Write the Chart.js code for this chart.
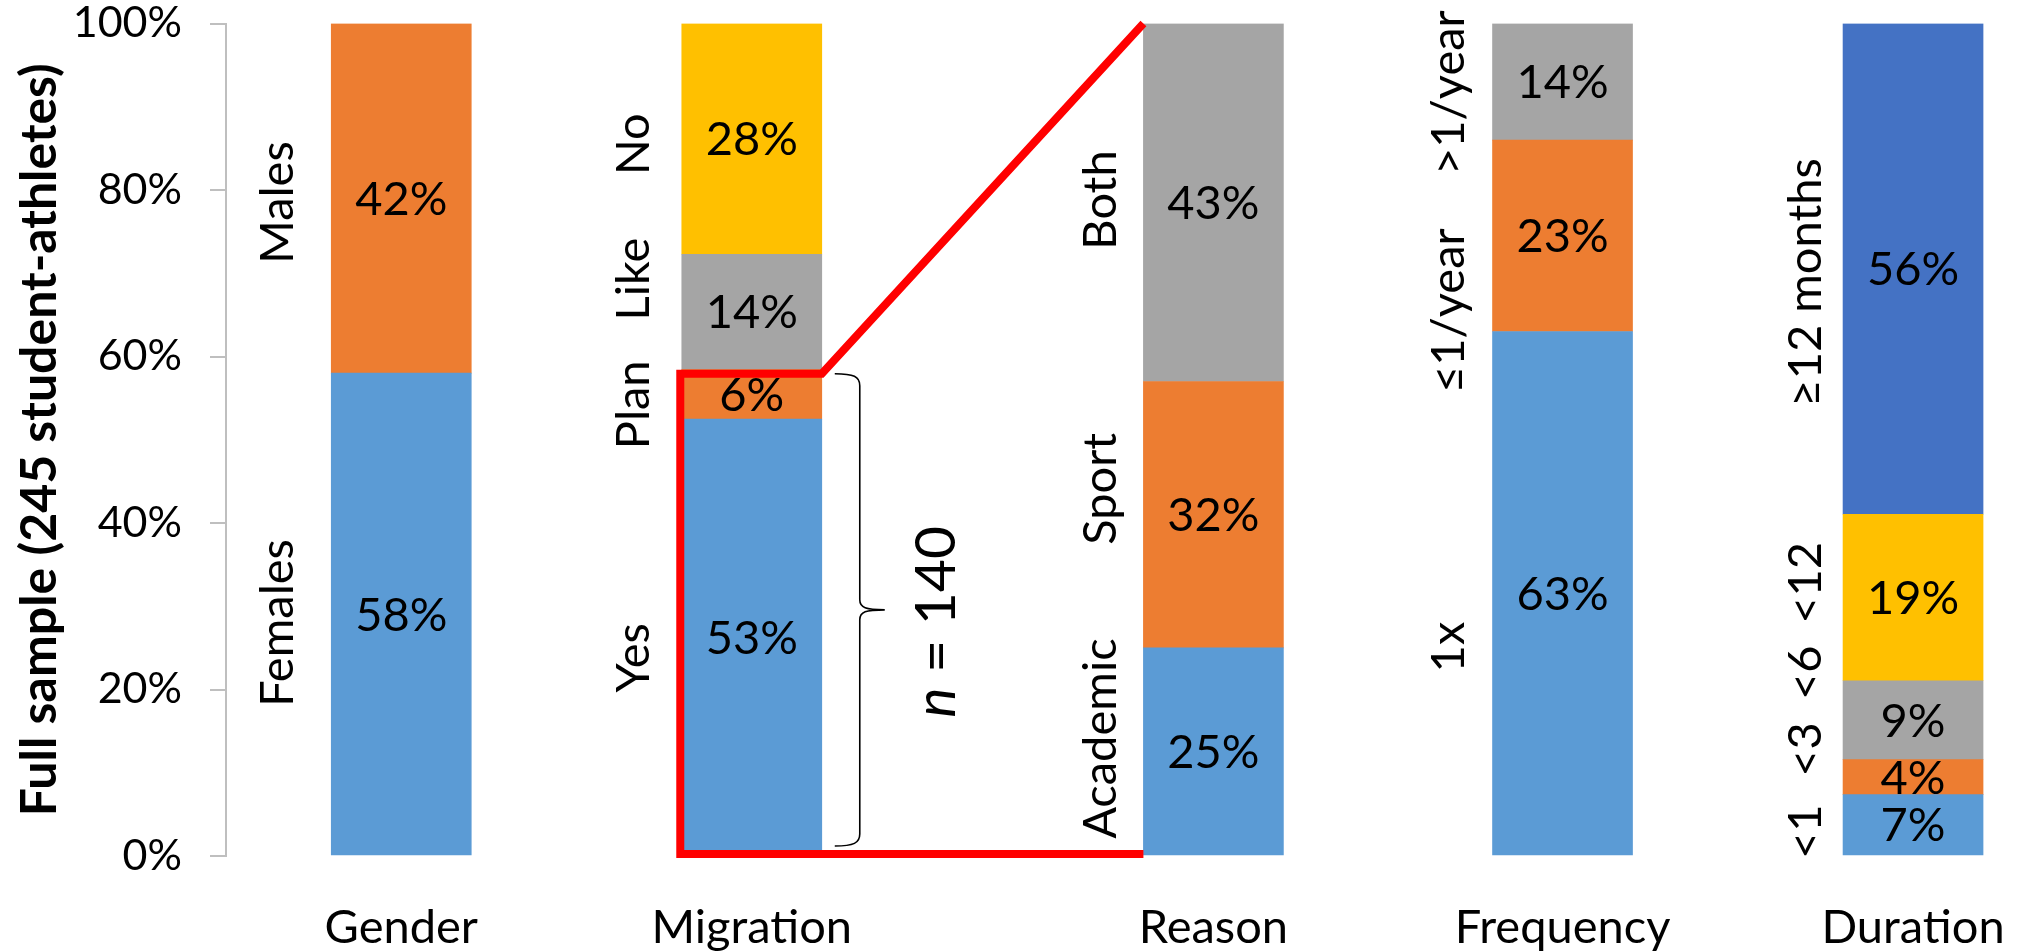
<!DOCTYPE html>
<html>
<head>
<meta charset="utf-8">
<script src="https://cdn.jsdelivr.net/npm/chart.js@4/dist/chart.umd.min.js"></script>
<style>
  html, body { margin: 0; padding: 0; background: #fff; }
  #wrap { width: 2026px; height: 951px; }
</style>
</head>
<body>
<div id="wrap"><canvas id="c" width="2026" height="951"></canvas></div>
<script>
// ---- data -------------------------------------------------------------
const categories = ['Gender', 'Migration', 'Reason', 'Frequency', 'Duration'];

// segment values in %, listed bottom to top of each column
const level1 = [58, 53, 25, 63, 7];
const level2 = [42, 6, 32, 23, 4];
const level3 = [null, 14, 43, 14, 9];
const level4 = [null, 28, null, null, 19];
const level5 = [null, null, null, null, 56];

// segment names, bottom to top
const names1 = ['Females', 'Yes', 'Academic', '1x', '<1'];
const names2 = ['Males', 'Plan', 'Sport', '\u22641/year', '<3'];
const names3 = [null, 'Like', 'Both', '>1/year', '<6'];
const names4 = [null, 'No', null, null, '<12'];
const names5 = [null, null, null, null, '\u226512 months'];

const yTicks = [0, 20, 40, 60, 80, 100];
const yTitle = 'Full sample (245 student-athletes)';
const subsetNote = ['n', ' = 140'];

// ---- layout & style ---------------------------------------------------
const SLOT_X = [0, 1, 2.317, 3.313, 4.313];          // column centres on the x scale
const NAME_AT = [                                    // side-name centres, in axis %
  [28.0, 23.8, 14.1, 25.1, 2.9],
  [78.5, 54.2, 44.1, 65.5, 12.8],
  [null, 69.3, 78.8, 91.7, 22.0],
  [null, 85.5, null, null, 32.8],
  [null, null, null, null, 68.9]
];
const NAME_GAP = [38.7, 33, 27, 29, 21.7];           // baseline distance left of each column
const COLORS = ['#5B9BD5', '#ED7D31', '#A5A5A5', '#FFC000', '#4472C4'];
const FONT = 'Lato';
const LABEL_SIZE = 47;

const levels = [level1, level2, level3, level4, level5];
const names = [names1, names2, names3, names4, names5];

// 100% stacking: each column is scaled to its own total
const totals = categories.map((_, i) =>
  levels.reduce((s, lv) => s + (lv[i] == null ? 0 : lv[i]), 0));

const datasets = levels.map((vals, k) => ({
  label: 'level ' + (k + 1),
  backgroundColor: COLORS[k],
  borderWidth: 0,
  barThickness: 140,
  data: vals.map((v, i) => v == null ? null : {
    x: SLOT_X[i], y: v / totals[i] * 100, value: v, cat: i, name: names[k][i]
  }).filter(Boolean)
}));

function barAt(chart, level, cat) {
  const idx = chart.data.datasets[level].data.findIndex(p => p.cat === cat);
  return chart.getDatasetMeta(level).data[idx].getProps(['x', 'y', 'base', 'width'], true);
}

// keep the plot area where the layout padding puts it
function noEdgePadding(axis) {
  axis.paddingLeft = 0;
  axis.paddingRight = 0;
  axis.paddingTop = 0;
  axis.paddingBottom = 0;
}

// value inside each segment + rotated name beside it
const segmentText = {
  id: 'segmentText',
  afterDatasetsDraw(chart) {
    const ctx = chart.ctx;
    const ys = chart.scales.y;
    chart.data.datasets.forEach((ds, d) => {
      const meta = chart.getDatasetMeta(d);
      meta.data.forEach((el, j) => {
        const item = ds.data[j];
        const { x, y, base, width } = el.getProps(['x', 'y', 'base', 'width'], true);
        ctx.save();
        ctx.font = LABEL_SIZE + 'px ' + FONT;
        ctx.fillStyle = '#000';
        ctx.textAlign = 'center';
        ctx.textBaseline = 'alphabetic';
        const txt = item.value + '%';
        const m = ctx.measureText(txt);
        const cy = (y + base) / 2;
        ctx.fillText(txt, x, cy + (m.actualBoundingBoxAscent - m.actualBoundingBoxDescent) / 2);
        const ny = ys.getPixelForValue(NAME_AT[d][item.cat]);
        ctx.translate(x - width / 2 - NAME_GAP[item.cat], ny);
        ctx.rotate(-Math.PI / 2);
        ctx.fillText(item.name, 0, 0);
        ctx.restore();
      });
    });
  }
};

// red frame linking the migrant part of "Migration" to the "Reason" column, plus brace
const zoomFrame = {
  id: 'zoomFrame',
  afterDatasetsDraw(chart) {
    const ctx = chart.ctx;
    const plan = barAt(chart, 1, 1);
    const yes = barAt(chart, 0, 1);
    const rBase = barAt(chart, 0, 2);
    const rTop = barAt(chart, 2, 2);
    const mL = plan.x - plan.width / 2;
    const mR = plan.x + plan.width / 2;
    const rL = rBase.x - rBase.width / 2;
    const lw = 8;
    const topY = plan.y + lw / 2;
    const botY = yes.base - 1;

    ctx.save();
    ctx.strokeStyle = '#FF0000';
    ctx.lineWidth = lw;
    ctx.lineJoin = 'miter';
    ctx.beginPath();
    ctx.moveTo(rL, rTop.y);
    ctx.lineTo(mR, topY);
    ctx.lineTo(mL - 1.5, topY);
    ctx.lineTo(mL - 1.5, botY);
    ctx.lineTo(rL, botY);
    ctx.stroke();

    // curly brace
    const x0 = mR + 13, x1 = mR + 38, tip = mR + 63;
    const t = plan.y + 4, b = yes.base - 9, mid = (t + b) / 2;
    ctx.strokeStyle = '#000';
    ctx.lineWidth = 1.6;
    ctx.beginPath();
    ctx.moveTo(x0, t);
    ctx.bezierCurveTo(x1 - 6, t, x1, t + 3, x1, t + 12);
    ctx.lineTo(x1, mid - 10);
    ctx.bezierCurveTo(x1, mid - 2, x1 + 6, mid, tip, mid);
    ctx.bezierCurveTo(x1 + 6, mid, x1, mid + 2, x1, mid + 10);
    ctx.lineTo(x1, b - 12);
    ctx.bezierCurveTo(x1, b - 3, x1 - 6, b, x0, b);
    ctx.stroke();

    // "n = 140", rotated
    const size = 57;
    ctx.fillStyle = '#000';
    ctx.translate(tip + 70, mid + 12);
    ctx.rotate(-Math.PI / 2);
    ctx.textBaseline = 'alphabetic';
    ctx.textAlign = 'left';
    ctx.font = 'italic ' + size + 'px ' + FONT;
    const w1 = ctx.measureText(subsetNote[0]).width;
    ctx.font = size + 'px ' + FONT;
    const w2 = ctx.measureText(subsetNote[1]).width;
    const start = -(w1 + w2) / 2;
    ctx.font = 'italic ' + size + 'px ' + FONT;
    ctx.fillText(subsetNote[0], start, 0);
    ctx.font = size + 'px ' + FONT;
    ctx.fillText(subsetNote[1], start + w1, 0);
    ctx.restore();
  }
};

function draw() {
  Chart.defaults.font.family = FONT;
  Chart.defaults.color = '#000';
  new Chart(document.getElementById('c'), {
    type: 'bar',
    data: { datasets },
    options: {
      responsive: false,
      animation: false,
      devicePixelRatio: 1,
      layout: { padding: { top: 23.5, right: 5, bottom: 0, left: 0 } },
      plugins: { legend: { display: false }, tooltip: { enabled: false } },
      scales: {
        x: {
          type: 'linear',
          min: -0.5,
          max: 4.621,
          stacked: true,
          offset: false,
          afterBuildTicks: axis => { axis.ticks = SLOT_X.map(v => ({ value: v })); },
          afterFit: axis => { axis.height = 95; noEdgePadding(axis); },
          ticks: {
            callback: (v, i) => categories[i],
            autoSkip: false,
            maxRotation: 0,
            font: { size: LABEL_SIZE },
            color: '#000',
            padding: 44
          },
          grid: { display: false, drawTicks: false },
          border: { display: false }
        },
        y: {
          min: 0,
          max: 100,
          stacked: true,
          afterBuildTicks: axis => { axis.ticks = yTicks.map(v => ({ value: v })); },
          afterFit: axis => { axis.width = 226; noEdgePadding(axis); },
          ticks: {
            callback: v => v + '%',
            font: { size: 43, lineHeight: 1 },
            color: '#000',
            padding: 28
          },
          grid: { drawOnChartArea: false, drawTicks: true, tickLength: 16, color: '#BFBFBF', lineWidth: 2 },
          border: { display: true, color: '#BFBFBF', width: 2 },
          title: {
            display: true,
            text: yTitle,
            font: { size: 50, weight: 'bold' },
            color: '#000',
            padding: { top: 10, bottom: 0 }
          }
        }
      }
    },
    plugins: [segmentText, zoomFrame]
  });
}

if (document.fonts && document.fonts.load) {
  Promise.all([
    document.fonts.load(LABEL_SIZE + 'px ' + FONT),
    document.fonts.load('bold 50px ' + FONT),
    document.fonts.load('italic 57px ' + FONT)
  ]).then(draw, draw);
} else {
  draw();
}
</script>
</body>
</html>
